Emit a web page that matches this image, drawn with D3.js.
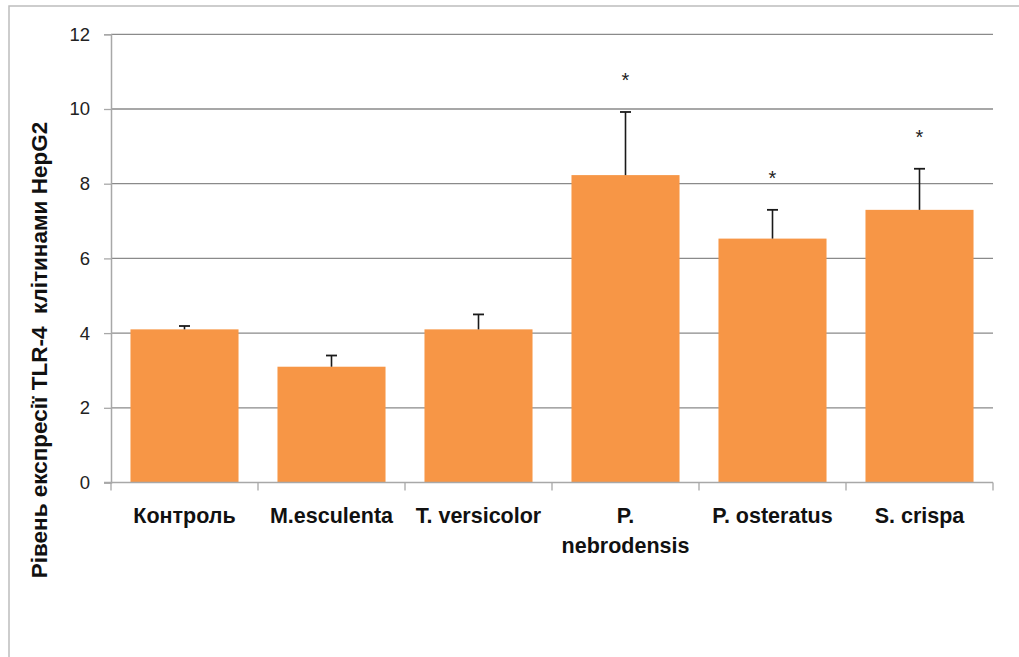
<!DOCTYPE html>
<html>
<head>
<meta charset="utf-8">
<script src="https://cdn.jsdelivr.net/npm/d3@7"></script>
<style>
  html, body { margin: 0; padding: 0; background: #fff; }
  svg { display: block; }
</style>
</head>
<body>
<svg id="chart" width="1019" height="657"></svg>
<script>
// TLR-4 expression level in HepG2 cells per extract (mean + SD)
const categories = ["Контроль", "M.esculenta", "T. versicolor", "P. nebrodensis", "P. osteratus", "S. crispa"];
const means      = [4.1, 3.1, 4.1, 8.23, 6.53, 7.3];
const errors     = [0.09, 0.3, 0.4, 1.69, 0.77, 1.1];
const significant = [false, false, false, true, true, true];
const yTicks     = [0, 2, 4, 6, 8, 10, 12];
const yTitle     = "Рівень експресії TLR-4  клітинами HepG2";

const data = categories.map((c, i) => ({ cat: c, mean: means[i], err: errors[i], sig: significant[i] }));

const svg = d3.select("#chart");
const W = 1019, H = 657;
const plot = { left: 111, right: 993, top: 34.3, bottom: 482.5 };

// outer frame (runs off the right and bottom edges)
svg.append("rect")
  .attr("x", 9).attr("y", 6)
  .attr("width", W + 20).attr("height", H + 20)
  .attr("fill", "#fff").attr("stroke", "#bdbdbd").attr("stroke-width", 1.5);

const x = d3.scaleBand()
  .domain(categories)
  .range([plot.left, plot.right])
  .paddingInner(0.265)
  .paddingOuter(0.1325);

const y = d3.scaleLinear().domain([0, 12]).range([plot.bottom, plot.top]);

// horizontal gridlines
svg.append("g")
  .selectAll("line")
  .data(yTicks.filter(t => t > 0))
  .join("line")
  .attr("x1", plot.left).attr("x2", plot.right)
  .attr("y1", d => y(d)).attr("y2", d => y(d))
  .attr("stroke", "#8a8a8a").attr("stroke-width", 1.3);

// y axis
const yAxis = d3.axisLeft(y).tickValues(yTicks).tickSize(7).tickPadding(14).tickFormat(d3.format("d"));
const gy = svg.append("g").attr("transform", `translate(${plot.left},0)`).call(yAxis);
gy.select(".domain").attr("stroke", "#a8a8a8").attr("stroke-width", 1.5);
gy.selectAll(".tick line").attr("stroke", "#a8a8a8").attr("stroke-width", 1.3);
gy.selectAll(".tick text")
  .attr("font-family", "'Liberation Sans', Arial, sans-serif")
  .attr("font-size", 18.5).attr("fill", "#222");

// bars
svg.append("g")
  .selectAll("rect")
  .data(data)
  .join("rect")
  .attr("x", d => x(d.cat))
  .attr("width", x.bandwidth())
  .attr("y", d => y(d.mean))
  .attr("height", d => y(0) - y(d.mean))
  .attr("fill", "#f79646");

// x axis along the baseline, ticks between categories
const step = x.step();
const boundaries = d3.range(categories.length + 1).map(i => plot.left + i * step);
svg.append("line")
  .attr("x1", plot.left - 7).attr("x2", plot.right)
  .attr("y1", y(0)).attr("y2", y(0))
  .attr("stroke", "#a8a8a8").attr("stroke-width", 1.5);
svg.append("g")
  .selectAll("line")
  .data(boundaries)
  .join("line")
  .attr("x1", d => d).attr("x2", d => d)
  .attr("y1", y(0)).attr("y2", y(0) + 8)
  .attr("stroke", "#a8a8a8").attr("stroke-width", 1.3);

// error bars (upper only)
const eb = svg.append("g").selectAll("g").data(data).join("g");
eb.append("line")
  .attr("x1", d => x(d.cat) + x.bandwidth() / 2)
  .attr("x2", d => x(d.cat) + x.bandwidth() / 2)
  .attr("y1", d => y(d.mean))
  .attr("y2", d => y(d.mean + d.err))
  .attr("stroke", "#1a1a1a").attr("stroke-width", 1.6);
eb.append("line")
  .attr("x1", d => x(d.cat) + x.bandwidth() / 2 - 5.5)
  .attr("x2", d => x(d.cat) + x.bandwidth() / 2 + 5.5)
  .attr("y1", d => y(d.mean + d.err))
  .attr("y2", d => y(d.mean + d.err))
  .attr("stroke", "#1a1a1a").attr("stroke-width", 1.8);

// significance marks
svg.append("g")
  .selectAll("text")
  .data(data.filter(d => d.sig))
  .join("text")
  .attr("x", d => x(d.cat) + x.bandwidth() / 2)
  .attr("y", d => y(d.mean + d.err) - 25)
  .attr("text-anchor", "middle")
  .attr("font-family", "'Liberation Sans', Arial, sans-serif")
  .attr("font-size", 20).attr("fill", "#222")
  .text("*");

// category labels (wrapped where needed)
const labelLines = { "P. nebrodensis": ["P.", "nebrodensis"] };
const lab = svg.append("g")
  .selectAll("text")
  .data(categories)
  .join("text")
  .attr("x", d => x(d) + x.bandwidth() / 2)
  .attr("y", 523)
  .attr("text-anchor", "middle")
  .attr("font-family", "'Liberation Sans Narrow', 'Liberation Sans', Arial, sans-serif")
  .attr("font-weight", "bold")
  .attr("font-size", 21.5)
  .attr("fill", "#111");
lab.each(function(d) {
  const lines = labelLines[d] || [d];
  d3.select(this).selectAll("tspan").data(lines).join("tspan")
    .attr("x", x(d) + x.bandwidth() / 2)
    .attr("dy", (l, i) => i === 0 ? 0 : 30)
    .text(l => l);
});

// y axis title
svg.append("text")
  .attr("transform", `translate(47,350) rotate(-90)`)
  .attr("text-anchor", "middle")
  .attr("font-family", "'Liberation Sans', Arial, sans-serif")
  .attr("font-weight", "bold")
  .attr("font-size", 22.5)
  .attr("fill", "#111")
  .attr("xml:space", "preserve")
  .style("white-space", "pre")
  .text(yTitle);
</script>
</body>
</html>
